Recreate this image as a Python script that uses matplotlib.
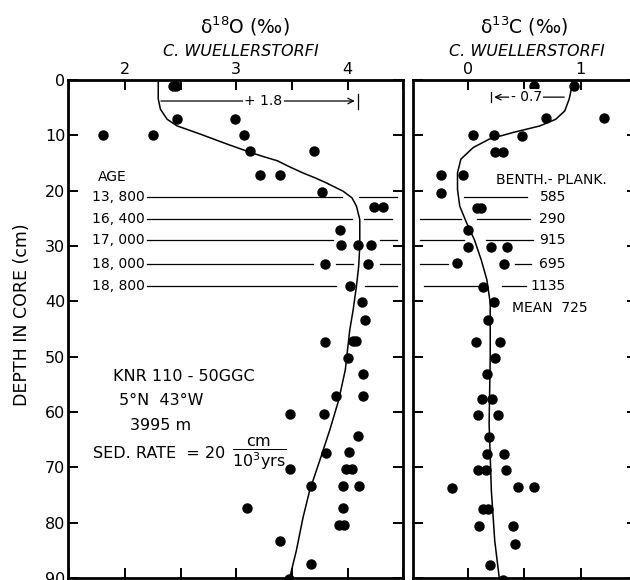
import numpy as np
import matplotlib.pyplot as plt
from matplotlib.ticker import MultipleLocator

# delta 18O, C. wuellerstorfi (per mil) vs depth (cm)
o_depth = [1.0, 1.0, 7.1, 7.1, 10, 10, 10, 12.9, 12.9, 17.2, 17.2, 20.2,
           23.0, 23.0, 27.2, 29.9, 29.9, 29.9, 33.2, 33.2, 37.3, 40.2, 43.4,
           47.3, 47.2, 47.2, 50.3, 53.1, 57.2, 57.2, 60.3, 60.4, 64.4, 67.5,
           67.3, 70.3, 70.3, 70.3, 73.4, 73.4, 73.4, 77.4, 77.4, 80.5, 80.5,
           83.4, 87.5, 90.2]
o_val = [2.43, 2.46, 2.47, 2.985, 1.80, 2.25, 3.07, 3.12, 3.70, 3.21, 3.39, 3.77,
         4.24, 4.32, 3.93, 3.94, 4.09, 4.21, 3.80, 4.18, 4.02, 4.13, 4.16,
         3.80, 4.05, 4.08, 4.00, 4.14, 3.90, 4.14, 3.48, 3.79, 4.09, 3.81,
         4.01, 3.48, 3.99, 4.04, 3.67, 3.96, 4.10, 3.10, 3.96, 3.92, 3.97,
         3.39, 3.67, 3.47]
o_curve_depth = [0, 3.4, 5.3, 7.1, 8.3, 9.8, 11.6, 13.1, 13.85, 14.6, 15.7, 16.8,
                 17.7, 18.6, 20.1, 21.3, 22.8, 25.2, 27.6, 30.1, 33.7, 37.3, 41.6,
                 45.2, 52.4, 57.9, 63.3, 68.8, 74.2, 79.1, 85.1, 90]
o_curve_val = [2.30, 2.30, 2.32, 2.38, 2.47, 2.68, 2.92, 3.13, 3.245, 3.37, 3.48, 3.60,
               3.71, 3.81, 3.96, 4.04, 4.08, 4.11, 4.11, 4.11, 4.10, 4.08, 4.05,
               4.02, 3.98, 3.92, 3.84, 3.75, 3.66, 3.60, 3.54, 3.48]

# delta 13C, C. wuellerstorfi
c_depth = [1.0, 1.0, 6.9, 6.9, 10, 10, 10.1, 13.1, 13.1, 17.2, 17.2, 20.4,
           23.1, 23.1, 27.2, 30.1, 30.1, 30.1, 33.1, 33.2, 37.4, 40.2, 43.3,
           47.3, 47.3, 50.2, 53.2, 57.6, 57.6, 60.6, 60.5, 64.6, 67.6, 67.6,
           70.5, 70.5, 70.5, 73.7, 73.6, 73.6, 77.6, 77.6, 80.6, 80.6, 83.8,
           87.7, 90.4]
c_val = [0.59, 0.94, 0.69, 1.21, 0.05, 0.23, 0.48, 0.24, 0.31, -0.24, -0.04, -0.24,
         0.08, 0.12, 0.00, 0.00, 0.21, 0.35, -0.09, 0.32, 0.14, 0.23, 0.18,
         0.07, 0.29, 0.24, 0.17, 0.13, 0.22, 0.09, 0.27, 0.19, 0.17, 0.32,
         0.09, 0.16, 0.34, -0.14, 0.45, 0.59, 0.14, 0.18, 0.10, 0.40, 0.42,
         0.20, 0.31]
c_curve_depth = [0, 1.5, 3.4, 5.6, 7.1, 8.3, 9.5, 10.7, 12.2, 14.3, 16.8, 19.8,
                 22.8, 25.8, 28.9, 32.5, 36.1, 40.3, 50.0, 62.1, 74.2, 83.3, 90]
c_curve_val = [0.93, 0.92, 0.90, 0.86, 0.78, 0.64, 0.40, 0.19, 0.05, -0.06, -0.09, -0.09,
               -0.07, -0.01, 0.06, 0.12, 0.17, 0.20, 0.20, 0.19, 0.21, 0.24, 0.28]

ages = ['13, 800', '16, 400', '17, 000', '18, 000', '18, 800']
age_depth = [21.1, 25.1, 29.0, 33.2, 37.2]
benth_plank = ['585', '290', '915', '695', '1135']

# pieces of the age lines (broken around the dots)
age_lines_left = [[(2.20, 3.95), (4.10, 4.44)],
                  [(2.20, 4.04), (4.15, 4.40)],
                  [(2.20, 3.87), (4.29, 4.44)],
                  [(2.20, 3.69), (3.90, 4.05), (4.29, 4.47)],
                  [(2.20, 3.90), (4.16, 4.44)]]
age_lines_right = [[(-0.03, 0.53)],
                   [(-0.42, -0.06), (0.08, 0.55)],
                   [(-0.42, -0.03), (0.16, 0.58)],
                   [(-0.42, -0.17), (0.42, 0.56)],
                   [(-0.39, 0.09), (0.30, 0.52)]]

fig = plt.figure(figsize=(6.3, 5.8), dpi=100)
ax1 = fig.add_axes([0.108, 0.0035, 0.532, 0.8586])
ax2 = fig.add_axes([0.6563, 0.0035, 0.3548, 0.8586])

for ax in (ax1, ax2):
    ax.set_ylim(90, 0)
    ax.yaxis.set_major_locator(MultipleLocator(10))
    ax.xaxis.set_major_locator(MultipleLocator(1))
    ax.xaxis.set_minor_locator(MultipleLocator(0.5))
    ax.tick_params(which='both', direction='in', length=7, width=1.4,
                   top=True, bottom=True, left=True, right=True,
                   labeltop=True, labelbottom=False, labelsize=11.5, pad=2)
    ax.xaxis.set_major_formatter(plt.FuncFormatter(lambda v, p: '%d' % round(v)))
    for s in ax.spines.values():
        s.set_linewidth(2)

ax1.set_xlim(1.49, 4.50)
ax2.set_xlim(-0.48, 1.50)
ax2.set_yticklabels([])

# left panel: d18O
ax1.plot(o_val, o_depth, 'o', color='k', ms=6.5, clip_on=False)
ax1.plot(o_curve_val, o_curve_depth, color='k', lw=1.1)
for lab, d, segs in zip(ages, age_depth, age_lines_left):
    for x0, x1 in segs:
        ax1.plot([x0, x1], [d, d], color='k', lw=0.9)
    ax1.text(2.18, d, lab, ha='right', va='center', fontsize=10)
ax1.text(1.885, 17.6, 'AGE', ha='center', va='center', fontsize=10)

ax1.annotate('', xy=(4.09, 3.8), xytext=(2.30, 3.8),
             arrowprops=dict(arrowstyle='->', color='k', lw=0.9))
ax1.plot([4.09, 4.09], [2.5, 5.3], color='k', lw=0.9)
ax1.text(3.245, 3.8, '+ 1.8', ha='center', va='center', fontsize=10,
         bbox=dict(fc='white', ec='none', pad=1))

ax1.text(2.53, 53.5, 'KNR 110 - 50GGC', ha='center', va='center', fontsize=11.5)
ax1.text(2.33, 57.9, '5°N  43°W', ha='center', va='center', fontsize=11.5)
ax1.text(2.32, 62.4, '3995 m', ha='center', va='center', fontsize=11.5)
ax1.text(2.90, 67.5, 'SED. RATE  = 20', ha='right', va='center', fontsize=11.5)
ax1.text(3.21, 67.6, r'$\dfrac{\mathrm{cm}}{10^{3}\mathrm{yrs}}$', ha='center',
         va='center', fontsize=11.5)

# right panel: d13C
ax2.plot(c_val, c_depth, 'o', color='k', ms=6.5, clip_on=False)
ax2.plot(c_curve_val, c_curve_depth, color='k', lw=1.1)
for lab, d, segs in zip(benth_plank, age_depth, age_lines_right):
    for x0, x1 in segs:
        ax2.plot([x0, x1], [d, d], color='k', lw=0.9)
    ax2.text(0.87, d, lab, ha='right', va='center', fontsize=10)
ax2.text(0.74, 18.0, 'BENTH.- PLANK.', ha='center', va='center', fontsize=10)
ax2.text(0.73, 41.2, 'MEAN  725', ha='center', va='center', fontsize=10)

ax2.annotate('', xy=(0.21, 3.1), xytext=(0.88, 3.1),
             arrowprops=dict(arrowstyle='->', color='k', lw=0.9))
ax2.plot([0.21, 0.21], [2.2, 4.0], color='k', lw=0.9)
ax2.text(0.52, 3.1, '- 0.7', ha='center', va='center', fontsize=10,
         bbox=dict(fc='white', ec='none', pad=1))

# titles
fig.text(245 / 630, 1 - 26 / 580, 'δ$^{18}$O (‰)', ha='center', va='center', fontsize=13.5)
fig.text(241 / 630, 1 - 51 / 580, 'C. WUELLERSTORFI', ha='center', va='center',
         fontsize=11.5, style='italic')
fig.text(524 / 630, 1 - 26 / 580, 'δ$^{13}$C (‰)', ha='center', va='center', fontsize=13.5)
fig.text(527 / 630, 1 - 51 / 580, 'C. WUELLERSTORFI', ha='center', va='center',
         fontsize=11.5, style='italic')
fig.text(22 / 630, 1 - 315 / 580, 'DEPTH IN CORE (cm)', rotation=90,
         ha='center', va='center', fontsize=12.5)

fig.savefig('out.png', dpi=100)
